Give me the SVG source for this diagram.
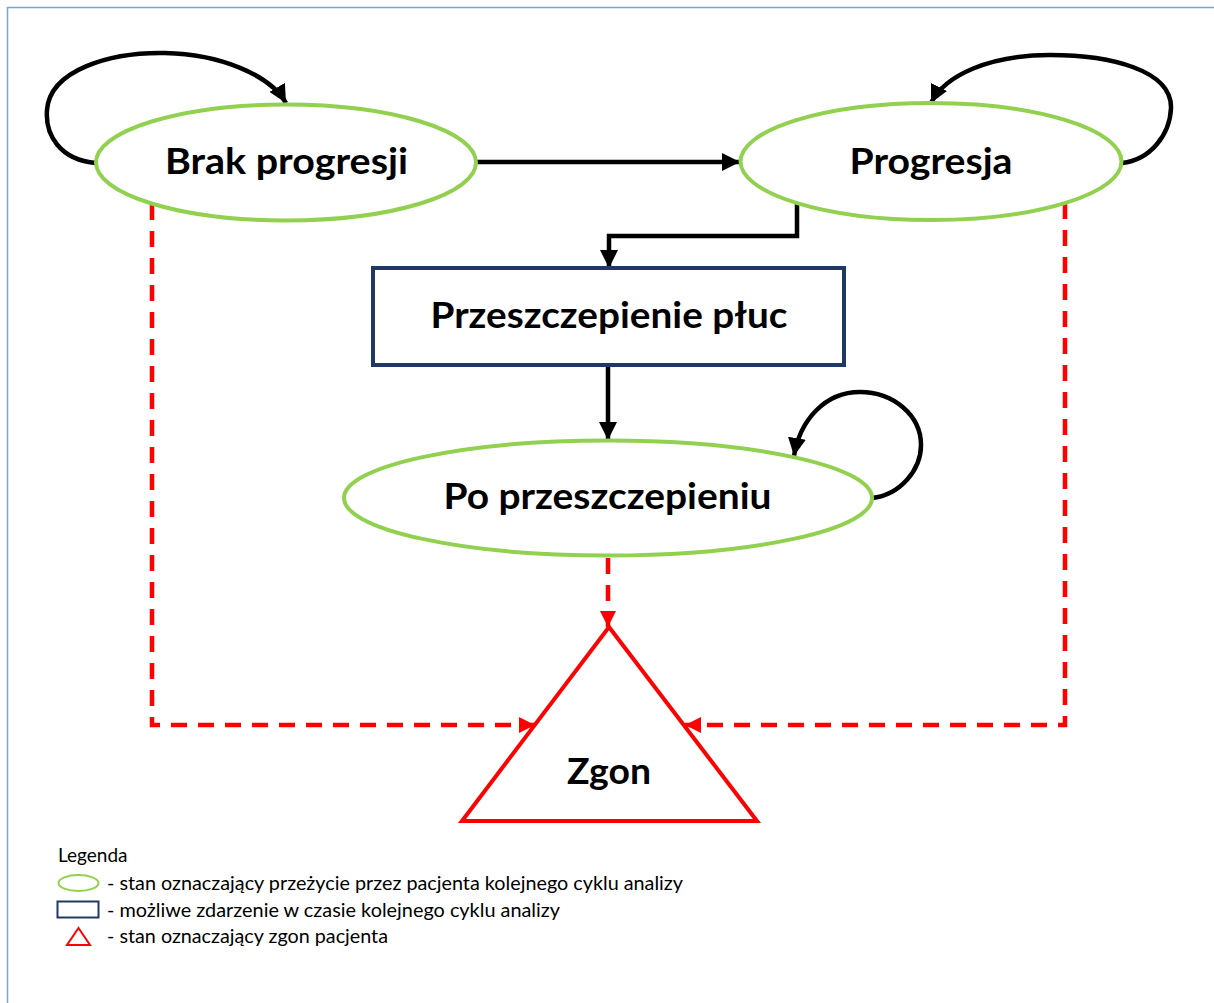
<svg xmlns="http://www.w3.org/2000/svg" width="1214" height="1003" viewBox="0 0 1214 1003">
<defs>
<style>
.state{fill:#fff;stroke:#92d050;stroke-width:4}
.event{fill:#fff;stroke:#1f3864;stroke-width:4}
.death{fill:#fff;stroke:#ff0000;stroke-width:4;stroke-linejoin:miter}
.lbl{font-family:Lato,"Open Sans","Liberation Sans",sans-serif;font-weight:bold;font-size:36px;fill:#000;text-anchor:middle}
.leg{font-family:Lato,"Open Sans","Liberation Sans",sans-serif;font-size:19px;fill:#000}
.blk{fill:none;stroke:#000;stroke-width:4.5;marker-end:url(#ab)}
.red{fill:none;stroke:#ff0000;stroke-width:4.5;stroke-dasharray:16 11;marker-end:url(#ar)}
</style>
<marker id="ab" markerUnits="userSpaceOnUse" markerWidth="18" markerHeight="18" viewBox="0 0 16 16" refX="16" refY="8" orient="auto">
<path d="M0,0 L16,8 L0,16 Z" fill="#000"/>
</marker>
<marker id="ar" markerUnits="userSpaceOnUse" markerWidth="16" markerHeight="16" viewBox="0 0 14 14" refX="14" refY="7" orient="auto">
<path d="M0,0 L14,7 L0,14 Z" fill="#ff0000"/>
</marker>
</defs>
<rect width="1214" height="1003" fill="#fff"/>
<path d="M7.5,1003 V7.5 H1214" fill="none" stroke="#7aa3dc" stroke-width="1.5"/>

<g id="connectors">
<path class="blk" d="M96,163 C60,160 45,135 47,110 C50,70 110,52 165,53 C220,54 270,75 286,103"/>
<path class="blk" d="M1122,163 C1150,160 1170,135 1171,108 C1172,70 1110,55 1050,55 C990,55 945,75 931,103"/>
<path class="blk" d="M872,498 C900,495 921,470 921,445 C921,415 893,392 860,392 C825,392 800,420 794,456"/>
<path class="blk" d="M476,162 H740"/>
<path class="blk" d="M797,203 V236 H609 V268"/>
<path class="blk" d="M608,365 V440"/>
<path class="red" d="M152,204 V725 H535"/>
<path class="red" d="M1065,203 V725 H685"/>
<path class="red" d="M608,558 V627"/>
</g>

<g id="node-brak">
<ellipse class="state" cx="286" cy="162.5" rx="190" ry="58"/>
<text class="lbl" x="286.5" y="174" textLength="243" lengthAdjust="spacingAndGlyphs">Brak progresji</text>
</g>
<g id="node-progresja">
<ellipse class="state" cx="931" cy="161.5" rx="190.5" ry="58.5"/>
<text class="lbl" x="931" y="174" textLength="163" lengthAdjust="spacingAndGlyphs">Progresja</text>
</g>
<g id="node-przeszczepienie">
<rect class="event" x="373" y="268" width="471" height="97"/>
<text class="lbl" x="609" y="328" textLength="357" lengthAdjust="spacingAndGlyphs">Przeszczepienie płuc</text>
</g>
<g id="node-po">
<ellipse class="state" cx="608" cy="498" rx="264" ry="57.5"/>
<text class="lbl" x="607.5" y="509" textLength="328" lengthAdjust="spacingAndGlyphs">Po przeszczepieniu</text>
</g>
<g id="node-zgon">
<polygon class="death" points="609,627 757,821 462,821"/>
<text class="lbl" x="609" y="784" textLength="84" lengthAdjust="spacingAndGlyphs">Zgon</text>
</g>

<g id="legend">
<text class="leg" x="58" y="862">Legenda</text>
<ellipse cx="78.5" cy="883" rx="20" ry="8" fill="#fff" stroke="#92d050" stroke-width="2"/>
<text class="leg" x="107" y="890" textLength="576" lengthAdjust="spacingAndGlyphs">- stan oznaczający przeżycie przez pacjenta kolejnego cyklu analizy</text>
<rect x="57.5" y="901.5" width="41" height="16" fill="#fff" stroke="#1f3864" stroke-width="2"/>
<text class="leg" x="107" y="917" textLength="453" lengthAdjust="spacingAndGlyphs">- możliwe zdarzenie w czasie kolejnego cyklu analizy</text>
<polygon points="78.5,928 90,945 67,945" fill="#fff" stroke="#ff0000" stroke-width="2"/>
<text class="leg" x="107" y="943" textLength="281" lengthAdjust="spacingAndGlyphs">- stan oznaczający zgon pacjenta</text>
</g>
</svg>
